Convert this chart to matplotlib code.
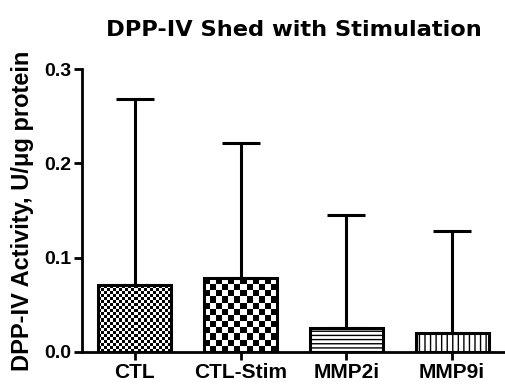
import matplotlib
matplotlib.use('Agg')
import matplotlib.pyplot as plt
import numpy as np

plt.rcParams['font.family'] = ['Liberation Sans', 'DejaVu Sans']
plt.rcParams['font.weight'] = 'bold'
plt.rcParams['hatch.linewidth'] = 1.0

groups = ['CTL', 'CTL-Stim', 'MMP2i', 'MMP9i']
means = [0.071, 0.078, 0.025, 0.020]
sd_upper = [0.197, 0.144, 0.120, 0.108]
hatches = [None, None, '----', '|||']
checker_px = [3, 6, None, None]

fig = plt.figure(figsize=(5.05, 3.89), dpi=100)
ax = fig.add_axes([82/505, 37/389, 423/505, 283/389])
x = np.arange(len(groups))
ax.set_xlim(-0.5, 3.5)
ax.set_ylim(0, 0.3)

bars = ax.bar(x, means, width=0.69, facecolor='none', edgecolor='black',
              linewidth=2.2, zorder=3)
for b, h in zip(bars, hatches):
    if h:
        b.set_hatch(h)

# checkerboard fills drawn as images clipped to the bars
for b, cell in zip(bars, checker_px):
    if cell is None:
        continue
    x0, y0 = b.get_x(), b.get_y()
    x1, y1 = x0 + b.get_width(), y0 + b.get_height()
    p0 = ax.transData.transform((x0, y0))
    p1 = ax.transData.transform((x1, y1))
    nx = max(1, int(round((p1[0] - p0[0]) / cell)))
    ny = max(1, int(round((p1[1] - p0[1]) / cell)))
    board = (np.add.outer(np.arange(ny), np.arange(nx)) % 2).astype(float)
    ax.imshow(board, cmap='gray', extent=[x0, x1, y0, y1], aspect='auto',
              interpolation='nearest', zorder=2, clip_path=b, clip_on=True)

ax.errorbar(x, means, yerr=[np.zeros(len(means)), sd_upper], fmt='none',
            ecolor='black', elinewidth=2.2, capsize=14, capthick=2.2, zorder=4)

ax.set_xlim(-0.5, 3.5)
ax.set_ylim(0, 0.3)
ax.set_xticks(x)
ax.set_xticklabels(groups, fontsize=15, fontweight='bold')
ax.set_yticks([0.0, 0.1, 0.2, 0.3])
ax.set_yticklabels(['0.0', '0.1', '0.2', '0.3'], fontsize=14, fontweight='bold')
ax.tick_params(width=2, length=6, direction='out', pad=2)
ax.spines['top'].set_visible(False)
ax.spines['right'].set_visible(False)
ax.spines['left'].set_linewidth(2)
ax.spines['bottom'].set_linewidth(2)
ax.set_ylabel('DPP-IV Activity, U/\u03bcg protein', fontsize=17, fontweight='bold')
ax.yaxis.set_label_coords(-0.113, 0.5)
ax.set_title('DPP-IV Shed with Stimulation', fontsize=16.2, fontweight='bold',
             family='DejaVu Sans', pad=24)

fig.savefig('out.png', dpi=100)
